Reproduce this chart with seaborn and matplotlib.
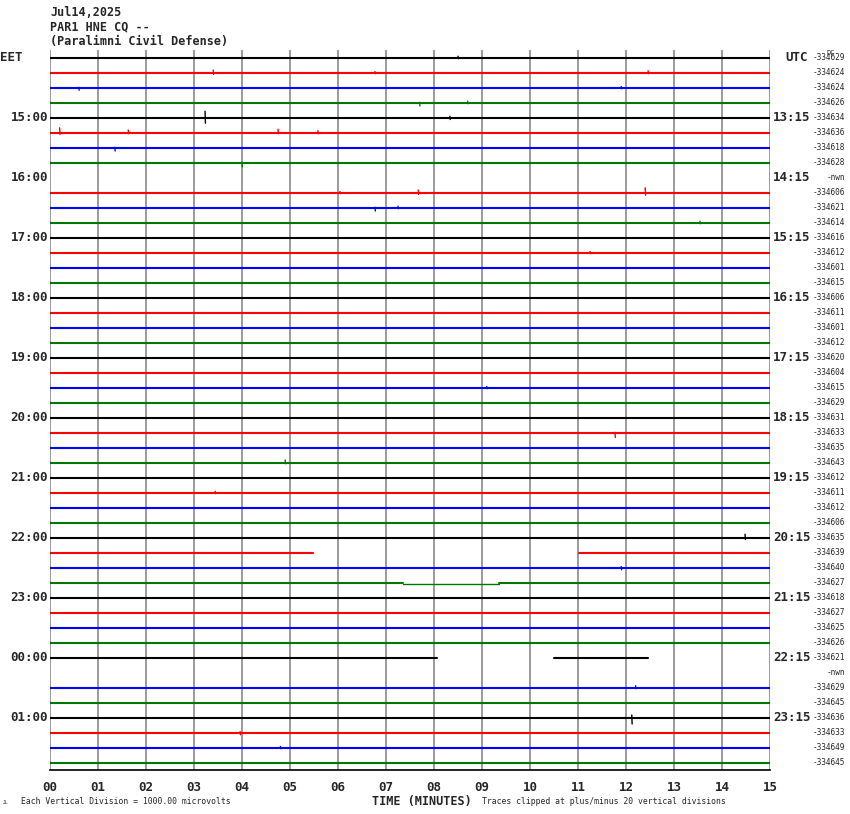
import matplotlib
matplotlib.use("Agg")
import matplotlib.pyplot as plt
import seaborn as sns
import pandas as pd
import numpy as np

# ── Data ────────────────────────────────────────────────────────────────────
trace_colors = ["black", "#ff0000", "#0000ff", "#007700"]
n_rows = 48

left_hours = ["15:00", "16:00", "17:00", "18:00", "19:00", "20:00",
              "21:00", "22:00", "23:00", "00:00", "01:00"]
right_hours = ["13:15", "14:15", "15:15", "16:15", "17:15", "18:15",
               "19:15", "20:15", "21:15", "22:15", "23:15"]

row_offsets = ["-334629", "-334624", "-334624", "-334626", "-334634", "-334636",
               "-334618", "-334628", "-nwn", "-334606", "-334621", "-334614",
               "-334616", "-334612", "-334601", "-334615", "-334606", "-334611",
               "-334601", "-334612", "-334620", "-334604", "-334615", "-334629",
               "-334631", "-334633", "-334635", "-334643", "-334612", "-334611",
               "-334612", "-334606", "-334635", "-334639", "-334640", "-334627",
               "-334618", "-334627", "-334625", "-334626", "-334621", "-nwn",
               "-334629", "-334645", "-334636", "-334633", "-334649", "-334645"]

# rows whose data segments differ from the full 0-15 minutes
partial_segments = {8: [], 41: [],
                    33: [(0, 5.48), (11.02, 15)],
                    40: [(0, 8.06), (10.5, 12.46)]}
# flat (dead) stretch inside row 35
flat_stretch = (35, 7.35, 9.35)

# visible spikes: row, minute, upward size, downward size (in row units)
spike_rows = [0, 1, 1, 1, 2, 2, 3, 3, 4, 4, 5, 5, 5, 5, 6, 7, 9, 9, 9, 10, 10,
              11, 13, 22, 25, 27, 29, 32, 34, 42, 44, 45, 46]
spike_minutes = [8.5, 3.4, 6.77, 12.46, 0.6, 11.9, 7.7, 8.7, 3.23, 8.33, 0.2,
                 1.63, 4.75, 5.58, 1.35, 4.0, 6.04, 7.67, 12.4, 6.77, 7.25,
                 13.54, 11.25, 9.1, 11.77, 4.9, 3.44, 14.48, 11.9, 12.2, 12.12,
                 3.96, 4.8]
spike_up = [0.12, 0.2, 0.1, 0.15, 0.05, 0.1, 0.05, 0.12, 0.45, 0.12, 0.35,
            0.2, 0.25, 0.15, 0.05, 0.05, 0.1, 0.2, 0.35, 0.05, 0.12, 0.12,
            0.1, 0.1, 0.05, 0.2, 0.12, 0.25, 0.1, 0.15, 0.2, 0.1, 0.1]
spike_down = [0.05, 0.1, 0.05, 0.05, 0.15, 0.05, 0.2, 0.05, 0.35, 0.1, 0.1,
              0.05, 0.05, 0.05, 0.2, 0.25, 0.05, 0.1, 0.15, 0.2, 0.05, 0.05,
              0.05, 0.05, 0.3, 0.05, 0.05, 0.1, 0.12, 0.05, 0.4, 0.12, 0.05]

minute_labels = [f"{m:02d}" for m in range(16)]

# ── Figure ──────────────────────────────────────────────────────────────────
sns.set_style("white")
plt.rcParams["font.family"] = ["DejaVu Sans Mono"]

W, H = 850, 814
fig = plt.figure(figsize=(W / 100, H / 100), dpi=100)
ax = fig.add_axes([50 / W, 1 - 770 / H, 720 / W, 720 / H])
ax.set_xlim(0, 15)
ax.set_ylim(47.467, -0.533)

# minute grid
for m in range(16):
    ax.axvline(m, color="#808080", lw=1.1, zorder=1)


def draw(df, color, lw):
    sns.lineplot(data=df, x="t", y="y", sort=False, estimator=None,
                 color=color, lw=lw, ax=ax, zorder=3)


spikes = pd.DataFrame({"row": spike_rows, "t": spike_minutes,
                       "up": spike_up, "down": spike_down})

for r in range(n_rows):
    color = trace_colors[r % 4]
    segs = partial_segments.get(r, [(0, 15)])
    if r == flat_stretch[0]:
        fa, fb = flat_stretch[1], flat_stretch[2]
        segs = [(0, fa), (fb, 15)]
        draw(pd.DataFrame({"t": [fa, fb], "y": [r + 0.07, r + 0.07]}), color, 1.0)
    for a, b in segs:
        draw(pd.DataFrame({"t": [a, b], "y": [r, r]}), color, 1.5)
    # spikes as thin vertical strokes
    sp = spikes[spikes.row == r]
    for _, s in sp.iterrows():
        df = pd.DataFrame({"t": [s.t, s.t + 0.008],
                           "y": [r - s.up, r + s.down]})
        draw(df, color, 1.0)

# axes styling
for side in ["top", "left", "right"]:
    ax.spines[side].set_visible(False)
ax.spines["bottom"].set_color("black")
ax.spines["bottom"].set_linewidth(1.2)
ax.set_yticks([])
ax.set_xticks(range(16))
ax.set_xticklabels(minute_labels, fontsize=9, fontweight="bold")
ax.set_xticks(np.arange(0, 15.01, 1 / 6), minor=True)
ax.tick_params(axis="x", which="major", direction="out", length=8, width=1,
               color="black", pad=0)
ax.tick_params(axis="x", which="minor", direction="out", length=7, width=1,
               color="black")
ax.set_xlabel("")
ax.set_ylabel("")

# hour labels
ytr = ax.get_yaxis_transform()
ax.text(-50 / 720, 0, "EET", transform=ytr, ha="left", va="center",
        fontsize=9, fontweight="bold")
ax.text(1 + 15 / 720, 0, "UTC", transform=ytr, ha="left", va="center",
        fontsize=9, fontweight="bold")
for i, (lh, rh) in enumerate(zip(left_hours, right_hours)):
    row = 4 * (i + 1)
    ax.text(-2 / 720, row, lh, transform=ytr, ha="right", va="center",
            fontsize=9, fontweight="bold")
    ax.text(1 + 3 / 720, row, rh, transform=ytr, ha="left", va="center",
            fontsize=9, fontweight="bold")
for r, off in enumerate(row_offsets):
    ax.text(1 + 75 / 720, r, off, transform=ytr, ha="right", va="center",
            fontsize=5.6)
ax.text(1 + 65 / 720, -0.35, "DC", transform=ytr, ha="right", va="center",
        fontsize=5.0)

# header and footer
fig.text(50 / W, 1 - 12 / H, "Jul14,2025", ha="left", va="center",
         fontsize=8.5, fontweight="bold")
fig.text(50 / W, 1 - 27 / H, "PAR1 HNE CQ --", ha="left", va="center",
         fontsize=8.5, fontweight="bold")
fig.text(50 / W, 1 - 41 / H, "(Paralimni Civil Defense)", ha="left", va="center",
         fontsize=8.5, fontweight="bold")
fig.text(422 / W, 1 - 801 / H, "TIME (MINUTES)", ha="center", va="center",
         fontsize=8.5, fontweight="bold")
fig.text(21 / W, 1 - 801 / H, "Each Vertical Division = 1000.00 microvolts",
         ha="left", va="center", fontsize=5.9)
fig.text(482 / W, 1 - 801 / H, "Traces clipped at plus/minus 20 vertical divisions",
         ha="left", va="center", fontsize=5.9)
fig.text(3 / W, 1 - 803 / H, "JL", ha="left", va="center", fontsize=3.5)

fig.savefig("out.png", dpi=100, facecolor="white")
